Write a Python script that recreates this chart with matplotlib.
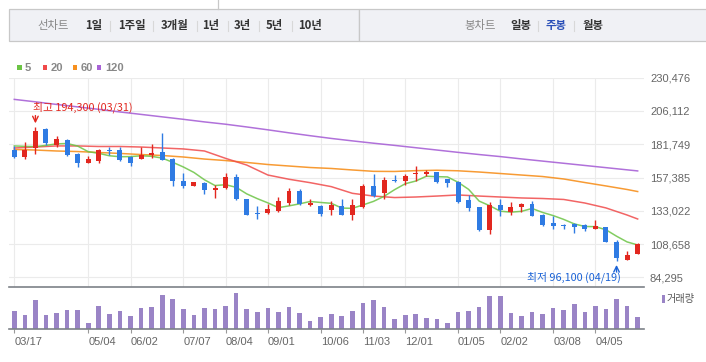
import numpy as np
import matplotlib.pyplot as plt
from matplotlib.patches import Rectangle

plt.rcParams['font.family'] = ['Noto Sans CJK KR', 'DejaVu Sans']

W, H = 706, 362

# weekly candles, week 0 = 03/17
opens = [177500, 172400, 179200, 192900, 181400, 184900, 174400, 168300, 169700, 177300,
         177500, 172600, 171200, 173600, 176100, 170900, 154800, 151400, 153100, 148500,
         149500, 157800, 141400, 130900, 131600, 132600, 139000, 147700, 137200, 136500,
         133800, 136500, 129900, 135800, 151200, 146300, 155300, 154800, 159700, 160200,
         161200, 156300, 154300, 140900, 135500, 118900, 137200, 132100, 135800, 138000,
         129900, 124100, 122400, 123300, 122400, 119900, 121100, 110200, 97200, 101600]
highs = [180700, 183100, 194300, 193600, 187500, 185300, 175100, 172900, 178000, 180000,
         179500, 173100, 179500, 181700, 189700, 171400, 160400, 154300, 154100, 151900,
         160700, 159700, 141600, 136800, 138200, 143400, 149500, 149000, 141400, 137000,
         140200, 141600, 141600, 152600, 160000, 157500, 159200, 160000, 165800, 162900,
         161700, 156500, 154800, 144600, 136000, 139700, 141600, 139200, 139000, 140200,
         130400, 129200, 123600, 123800, 123100, 126300, 121400, 111600, 103600, 109400]
lows = [171900, 171200, 174800, 181200, 179500, 173100, 165300, 168000, 168300, 173900,
        169500, 165800, 170900, 171700, 170200, 151400, 149900, 150900, 145500, 142600,
        149000, 141200, 129900, 126800, 130900, 132400, 137200, 137000, 136500, 129400,
        130200, 129900, 126500, 135300, 142900, 141900, 154100, 152100, 154800, 158700,
        153400, 150700, 139000, 133100, 118200, 116000, 129400, 129900, 131900, 128900,
        121900, 119400, 119900, 117000, 118500, 119700, 110200, 96100, 97000, 101400]
closes = [172600, 177300, 191400, 182900, 185800, 173900, 168000, 170700, 177300, 176800,
          170200, 168300, 173900, 175100, 170500, 154800, 151200, 153900, 148200, 149500,
          157800, 141400, 130200, 130400, 134300, 140200, 147700, 138000, 138700, 130900,
          137200, 130200, 137200, 151200, 143800, 155600, 154800, 158700, 160900, 161700,
          154100, 153400, 139400, 134800, 118900, 137200, 133300, 135800, 138000, 129400,
          122600, 121900, 121600, 121400, 119900, 122100, 110400, 98200, 100600, 108700]
volumes = [540, 420, 870, 420, 480, 570, 570, 180, 690, 450,
           540, 390, 630, 660, 1020, 900, 600, 420, 630, 600,
           690, 1080, 600, 510, 630, 510, 660, 480, 240, 360,
           450, 390, 540, 780, 870, 660, 300, 420, 450, 330,
           300, 180, 510, 540, 660, 990, 990, 480, 390, 510,
           450, 630, 570, 750, 510, 690, 600, 900, 690, 360]

ma5 = [180500, 180200, 180000, 180900, 182000, 182300, 180400, 176300, 175100, 173300,
       172600, 172700, 173300, 172900, 171600, 168500, 165100, 161100, 155700, 151500,
       152100, 150200, 145400, 141900, 138800, 135300, 136600, 138100, 139800, 139100,
       138500, 135000, 134800, 137300, 139900, 143600, 148500, 152800, 154800, 158300,
       158000, 157800, 153900, 148700, 140100, 136700, 132700, 132000, 132600, 134700,
       131800, 129500, 126700, 123400, 121500, 121400, 119100, 114400, 110200, 108000]
ma_idx = list(range(0, 60, 2)) + [59]
ma20 = [179000, 179700, 180500, 180500, 180100, 180100, 179700, 179000, 178300, 176800,
        171400, 166500, 159200, 156100, 153600, 150700, 145800, 143800, 142700, 143100,
        143800, 144600, 143800, 143100, 142400, 142000, 141300, 138700, 135100, 129900, 127000]
ma60 = [177900, 177500, 176800, 176400, 175700, 175000, 174200, 173500, 172400, 170900,
        169800, 168400, 166900, 165800, 164700, 164000, 162900, 161900, 161800, 162400,
        162700, 162300, 161400, 160300, 159200, 158100, 156300, 153700, 151200, 148600, 147100]
ma120 = [214600, 212800, 210900, 209100, 207300, 205400, 203600, 201800, 200000, 198100,
         196400, 194400, 192300, 190100, 188000, 186000, 184200, 182500, 180900, 179200,
         177500, 175800, 174200, 172700, 171000, 169400, 167800, 166200, 164600, 163000, 162200]

tick_idx = [0, 7, 11, 16, 20, 24, 29, 33, 37, 42, 46, 51, 55]
tick_labels = ['03/17', '05/04', '06/02', '07/07', '08/04', '09/01', '10/06',
               '11/03', '12/01', '01/05', '02/02', '03/08', '04/05']
yticks = [84295, 108658, 133022, 157385, 181749, 206112, 230476]

hi_idx, hi_val, hi_text = 2, 194300, '최고 194,300 (03/31)'
lo_idx, lo_val, lo_text = 57, 96100, '최저 96,100 (04/19)'

up_color = '#e2271f'
down_color = '#2f7be3'
ma_colors = {'5': '#6cc445', '20': '#f04a4a', '60': '#f7901e', '120': '#a862d6'}
vol_color = '#9a84c6'


def px_axes(fig, l, t, r, b):
    return fig.add_axes([l / W, 1 - b / H, (r - l) / W, (b - t) / H])


fig = plt.figure(figsize=(W / 100, H / 100), dpi=100)

# background / header layer in pixel coords
bg = fig.add_axes([0, 0, 1, 1])
bg.set_xlim(0, W)
bg.set_ylim(H, 0)
bg.axis('off')
bg.add_patch(Rectangle((9, 9.3), 350, 31.4, facecolor='#f0f1f5', edgecolor='#c8c8c8', lw=0.9))
bg.add_patch(Rectangle((359, 9.3), 350, 31.4, facecolor='#f0f1f5', edgecolor='#c8c8c8', lw=0.9))
bg.plot([217.7, 217.7], [0, 9.3], color='#c8c8c8', lw=0.9)

menu_left = [('선차트', 53, '#888888', 'normal'), ('1일', 94, '#333333', 'bold'),
             ('1주일', 132, '#333333', 'bold'), ('3개월', 175, '#333333', 'bold'),
             ('1년', 211, '#333333', 'bold'), ('3년', 242, '#333333', 'bold'),
             ('5년', 274, '#333333', 'bold'), ('10년', 310, '#333333', 'bold')]
menu_right = [('봉차트', 480, '#888888', 'normal'), ('일봉', 521, '#333333', 'bold'),
              ('주봉', 556, '#2b50b8', 'bold'), ('월봉', 593, '#333333', 'bold')]
for txt, x, c, w in menu_left + menu_right:
    bg.text(x, 25.5, txt, ha='center', va='center', fontsize=8.2, color=c, fontweight=w)
for x in [110, 153, 197, 228, 259, 292, 538, 574]:
    bg.plot([x, x], [20.5, 30.5], color='#d8d8d8', lw=0.8)

# MA legend
for (name, c), sx, tx in zip(ma_colors.items(), [17, 42.5, 72.5, 96.5], [25, 50.5, 81, 105]):
    bg.add_patch(Rectangle((sx, 65.2), 4.8, 4.8, facecolor=c, edgecolor='none'))
    bg.text(tx, 67.7, name, ha='left', va='center', fontsize=8, color='#888888',
            fontweight='bold', family=['Liberation Sans', 'DejaVu Sans'])

# volume legend
bg.add_patch(Rectangle((661.7, 295), 3.3, 7.7, facecolor=vol_color, edgecolor='none'))
bg.text(667, 299, '거래량', ha='left', va='center', fontsize=7.3, color='#555555')

# price panel
ax = px_axes(fig, 9, 77.7, 644, 286.7)
x = np.arange(len(closes))
o = np.array(opens)
c = np.array(closes)
colors = [up_color if cc >= oo else down_color for oo, cc in zip(o, c)]

ax.plot(ma_idx, ma120, color=ma_colors['120'], lw=1.1, alpha=0.9, zorder=2)
ax.plot(ma_idx, ma60, color=ma_colors['60'], lw=1.1, alpha=0.9, zorder=2)
ax.plot(ma_idx, ma20, color=ma_colors['20'], lw=1.1, alpha=0.85, zorder=2)
ax.plot(x, ma5, color=ma_colors['5'], lw=1.1, alpha=0.85, zorder=2)

ax.vlines(x, lows, highs, color=colors, lw=1.0, zorder=3)
body = np.maximum(np.abs(c - o), 700)
ax.bar(x, body, bottom=np.minimum(o, c), width=0.47, color=colors, zorder=4)

ax.set_xlim(-0.5, 59.6)
ax.set_ylim(77410, 230476)
ax.set_xticks(tick_idx)
ax.set_yticks(yticks)
ax.set_xticklabels([])
ax.yaxis.tick_right()
ax.set_yticklabels([f'{v:,}' for v in yticks], fontsize=8, color='#666666',
                   family=['Liberation Sans', 'DejaVu Sans'])
ax.tick_params(axis='both', length=0)
ax.tick_params(axis='y', pad=4.3)
ax.grid(True, color='#ebebeb', lw=0.8, zorder=0)
ax.set_axisbelow(True)
for s in ax.spines.values():
    s.set_visible(False)

# high / low marks
ax.annotate('', xy=(hi_idx, hi_val), xytext=(0, 8.3), textcoords='offset points',
            arrowprops=dict(arrowstyle='->', color=up_color, lw=1, shrinkA=0, shrinkB=2.7))
ax.annotate(hi_text, xy=(hi_idx, hi_val), xytext=(-1.7, 14), textcoords='offset points',
            ha='left', va='center', fontsize=7.8, color=up_color)
ax.annotate('', xy=(lo_idx, lo_val), xytext=(0, -7.8), textcoords='offset points',
            arrowprops=dict(arrowstyle='->', color='#1a62d6', lw=1, shrinkA=0, shrinkB=2.7))
ax.annotate(lo_text, xy=(lo_idx, lo_val), xytext=(3, -11.9), textcoords='offset points',
            ha='right', va='center', fontsize=7.8, color='#1a62d6')

# volume panel
vax = px_axes(fig, 9, 286.7, 644, 329)
vax.bar(x, volumes, width=0.44, color=vol_color)
vax.set_xlim(-0.5, 59.6)
vax.set_ylim(0, 1080 * 42.3 / 36.3)
vax.set_yticks([])
vax.set_xticks(tick_idx)
vax.set_xticklabels(tick_labels, ha='left', fontsize=8, color='#666666',
                    family=['Liberation Sans', 'DejaVu Sans'])
vax.tick_params(axis='x', length=3, width=0.8, color='#999999', pad=2.5)
for side in ['left', 'right']:
    vax.spines[side].set_visible(False)
for side in ['top', 'bottom']:
    vax.spines[side].set_color('#7d8288')
    vax.spines[side].set_linewidth(1.2)
vax.patch.set_alpha(0)

fig.savefig('out.png', dpi=100)
